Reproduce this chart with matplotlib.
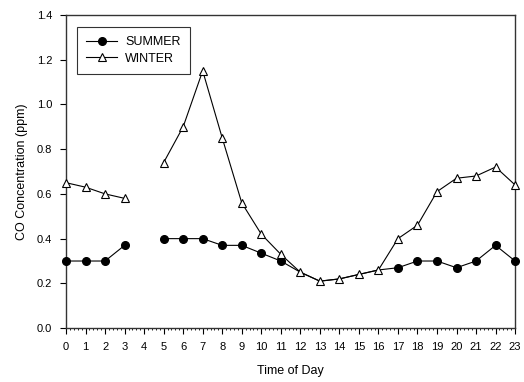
import numpy as np
import matplotlib
matplotlib.use("Agg")
import matplotlib.pyplot as plt
from matplotlib.ticker import MultipleLocator

hours = list(range(24))
summer = [0.30, 0.30, 0.30, 0.37, np.nan, 0.40, 0.40, 0.40, 0.37, 0.37, 0.335, 0.30,
          0.25, 0.21, 0.22, 0.24, 0.26, 0.27, 0.30, 0.30, 0.27, 0.30, 0.37, 0.30]
winter = [0.65, 0.63, 0.60, 0.58, np.nan, 0.74, 0.90, 1.15, 0.85, 0.56, 0.42, 0.33,
          0.25, 0.21, 0.22, 0.24, 0.26, 0.40, 0.46, 0.61, 0.67, 0.68, 0.72, 0.64]
xticklabels = [str(h) for h in hours]
yticks = [0.0, 0.2, 0.4, 0.6, 0.8, 1.0, 1.2, 1.4]

plt.rcParams['font.family'] = ['Liberation Sans', 'DejaVu Sans']

fig = plt.figure(figsize=(5.24, 3.82), dpi=100)
ax = fig.add_axes([0.126, 0.141, 0.857, 0.82])

# summer markers hidden where they coincide with winter triangles
summer_marks = [i for i in hours
                if not (np.isclose(summer[i], winter[i]) if not np.isnan(summer[i]) else True)]

ax.plot(hours, summer, color='black', lw=0.8, marker='o', markersize=5.5,
        markerfacecolor='black', markeredgecolor='black', label='SUMMER',
        markevery=summer_marks, zorder=3, clip_on=False)
ax.plot(hours, winter, color='black', lw=0.8, marker='^', markersize=6,
        markerfacecolor='white', markeredgecolor='black', markeredgewidth=0.8,
        label='WINTER', zorder=4, clip_on=False)

ax.set_xlim(0, 23)
ax.set_ylim(0, 1.4)
ax.set_xticks(hours)
ax.set_xticklabels(xticklabels)
ax.set_yticks(yticks)
ax.set_yticklabels([f"{v:.1f}" for v in yticks])
ax.xaxis.set_minor_locator(MultipleLocator(0.2))
ax.tick_params(axis='both', which='major', direction='out', length=4, width=0.8,
               labelsize=8, pad=6)
ax.tick_params(axis='x', which='minor', direction='out', length=1.5, width=0.6)
for s in ax.spines.values():
    s.set_linewidth(1.0)
    s.set_color('#333333')

ax.set_xlabel('Time of Day', fontsize=9, labelpad=9)
ax.set_ylabel('CO Concentration (ppm)', fontsize=9, labelpad=6)

leg = ax.legend(loc='upper left', bbox_to_anchor=(0.024, 0.962), fontsize=9,
                frameon=True, fancybox=False, edgecolor='black',
                handlelength=2.5, borderpad=0.75, labelspacing=0.35,
                handletextpad=0.6, borderaxespad=0)
leg.get_frame().set_linewidth(0.8)

fig.savefig('out.png', dpi=100)
